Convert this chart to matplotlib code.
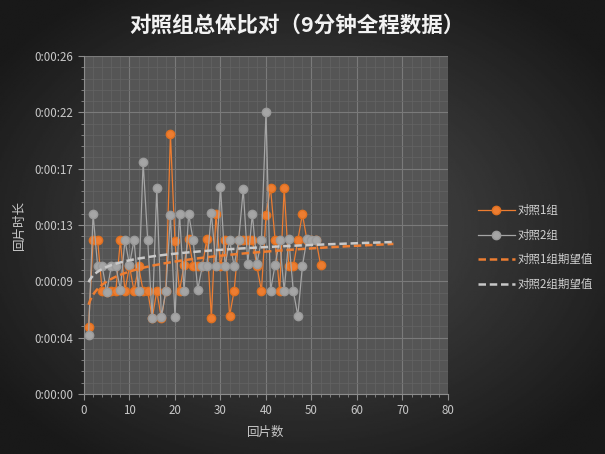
import numpy as np
import matplotlib
matplotlib.use('Agg')
import matplotlib.pyplot as plt
from matplotlib.ticker import MultipleLocator, FuncFormatter

plt.rcParams['font.family'] = ['Noto Sans CJK SC', 'DejaVu Sans']

#%%
# data: 回片时长 (seconds) per 回片
group1 = [5.1, 11.8, 11.8, 7.9, 7.8, 7.9, 7.9, 11.8, 7.9, 9.8,
          7.9, 9.8, 7.9, 7.9, 5.8, 7.9, 5.8, 7.9, 19.9, 11.7,
          7.9, 9.9, 11.9, 9.8, 9.8, 9.8, 11.9, 5.8, 13.8, 9.8,
          11.8, 6.0, 7.9, 11.8, 11.8, 11.8, 11.8, 9.8, 7.9, 13.7,
          15.8, 11.8, 7.9, 15.8, 9.8, 9.8, 11.8, 13.8, 11.8, 11.8,
          11.8, 9.9]
group2 = [4.5, 13.8, 9.8, 9.8, 7.8, 9.8, 9.8, 8.0, 11.8, 9.9,
          11.8, 7.9, 17.8, 11.8, 5.8, 15.8, 5.9, 7.9, 13.7, 5.9,
          13.8, 7.9, 13.8, 11.8, 8.0, 9.8, 9.8, 13.9, 9.8, 15.9,
          9.8, 11.8, 9.8, 11.8, 15.7, 10.0, 13.8, 10.0, 11.8, 21.6,
          7.9, 9.9, 11.8, 7.9, 11.9, 7.9, 6.0, 9.8, 11.9, 11.8,
          11.8]
labels = ['对照1组', '对照2组', '对照1组期望值', '对照2组期望值']
trend_end = 68

x1 = np.arange(1, len(group1) + 1)
x2 = np.arange(1, len(group2) + 1)

orange = '#ED7D31'
grey = '#A5A5A5'

#%%
fig = plt.figure(figsize=(6.05, 4.54), dpi=100)

# dark radial background
bg = fig.add_axes([0, 0, 1, 1], zorder=-10)
yy, xx = np.mgrid[-1:1:300j, -1:1:400j]
r = np.sqrt(xx ** 2 + yy ** 2)
shade = np.clip(0.31 - 0.17 * r, 0.1, 0.31)
bg.imshow(shade, cmap='gray', vmin=0, vmax=1, aspect='auto', extent=[0, 1, 0, 1])
bg.axis('off')

ax = fig.add_axes([0.1388, 0.1322, 0.6017, 0.7445])
ax.set_facecolor('#555555')

ax.plot(x1, group1, color=orange, lw=0.9, marker='o', ms=6, mfc=orange, mec='#E07020', label=labels[0], zorder=3)
ax.plot(x2, group2, color=grey, lw=0.9, marker='o', ms=6, mfc=grey, mec='#9A9A9A', label=labels[1], zorder=3)

# logarithmic trendlines
xt = np.linspace(1, trend_end, 200)
a1, b1 = np.polyfit(np.log(x1), group1, 1)
a2, b2 = np.polyfit(np.log(x2), group2, 1)
ax.plot(xt, a1 * np.log(xt) + b1, color=orange, lw=1.8, ls=(0, (3, 1.5)), label=labels[2], zorder=4)
ax.plot(xt, a2 * np.log(xt) + b2, color='#C8C8C8', lw=1.8, ls=(0, (3, 1.5)), label=labels[3], zorder=4)

ax.set_xlim(0, 80)
ax.set_ylim(0, 25.92)
ax.xaxis.set_major_locator(MultipleLocator(10))
ax.xaxis.set_minor_locator(MultipleLocator(2))
ax.yaxis.set_major_locator(MultipleLocator(4.32))
ax.yaxis.set_minor_locator(MultipleLocator(0.864))

def fmt_time(v, pos):
    s = int(round(v))
    return '{}:{:02d}:{:02d}'.format(s // 3600, (s // 60) % 60, s % 60)

ax.yaxis.set_major_formatter(FuncFormatter(fmt_time))

ax.grid(which='major', color='#7A7A7A', lw=0.8)
ax.grid(which='minor', color='#646464', lw=0.5)
ax.set_axisbelow(True)

for s in ['top', 'right']:
    ax.spines[s].set_visible(False)
for s in ['left', 'bottom']:
    ax.spines[s].set_color('#8C8C8C')
    ax.spines[s].set_linewidth(0.8)

ax.tick_params(which='major', direction='out', length=4, color='#8C8C8C', labelcolor='#C8C8C8', labelsize=8.3)
ax.tick_params(which='minor', direction='out', length=2, color='#8C8C8C')

ax.set_xlabel('回片数', color='#C8C8C8', fontsize=9, labelpad=6)
ax.set_ylabel('回片时长', color='#C8C8C8', fontsize=9, labelpad=6)

fig.text(0.49, 0.945, '对照组总体比对（9分钟全程数据）', ha='center', va='center',
         color='#F2F2F2', fontsize=15.5, fontweight='bold')

fig.legend(loc='center left', bbox_to_anchor=(0.773, 0.455), frameon=False,
           fontsize=8.3, labelcolor='#D0D0D0', handlelength=3.2, handletextpad=0.2,
           labelspacing=1.0)

fig.savefig('out.png', dpi=100)
